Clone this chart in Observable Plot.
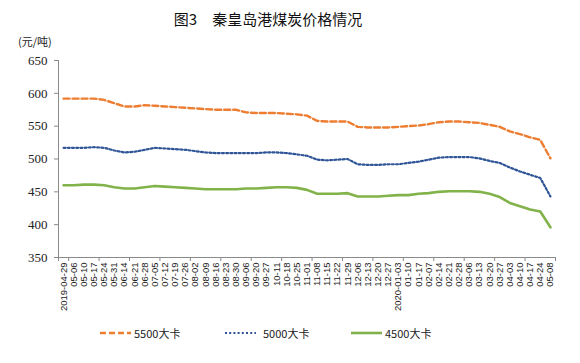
<!DOCTYPE html>
<html><head><meta charset="utf-8">
<script src="https://cdn.jsdelivr.net/npm/d3@7"></script>
<script src="https://cdn.jsdelivr.net/npm/@observablehq/plot@0.6"></script>
<style>
body{margin:0;background:#fff;}
#wrap{position:relative;width:580px;height:363px;overflow:hidden;font-family:"Noto Sans CJK SC",sans-serif;background:#fff;}
#title{position:absolute;top:9px;left:0;width:536px;text-align:center;font-size:15px;line-height:20px;color:#111;z-index:2;}
#unit{position:absolute;top:33px;left:18px;font-size:11px;line-height:16px;color:#222;z-index:2;}
#chart{position:absolute;top:32px;left:0;z-index:1;}
#chart svg{background:transparent !important;}
.leg{position:absolute;top:325px;height:16px;display:flex;align-items:center;font-size:11px;color:#222;white-space:nowrap;z-index:2;}
.leg svg{display:block;}
</style></head>
<body>
<div id="wrap">
  <div id="title">图3　秦皇岛港煤炭价格情况</div>
  <div id="unit">(元/吨)</div>
  <div id="chart"></div>
</div>
<script>
const dates = ["2019-04-29","05-06","05-10","05-17","05-24","05-31","06-14","06-21","06-28","07-05",
  "07-12","07-19","07-26","08-02","08-09","08-16","08-23","08-30","09-06","09-20",
  "09-27","10-11","10-18","10-25","11-01","11-08","11-15","11-22","11-29","12-06",
  "12-13","12-20","12-27","2020-01-03","01-10","01-17","02-07","02-14","02-21","02-28",
  "03-06","03-13","03-20","03-27","04-03","04-10","04-17","04-24","05-08"];
const s5500 = [592,592,592,592,590,585,580,580,582,581,
  580,579,578,577,576,575,575,575,571,570,
  570,570,569,568,566,558,557,557,557,549,
  548,548,548,549,550,551,553,556,557,557,
  556,555,552,549,542,538,533,529,501];
const s5000 = [517,517,517,518,517,513,510,511,514,517,
  516,515,514,512,510,509,509,509,509,509,
  510,510,509,507,505,499,498,499,500,492,
  491,491,492,492,494,496,499,502,503,503,
  503,501,497,494,487,481,476,471,443];
const s4500 = [460,460,461,461,460,457,455,455,457,459,
  458,457,456,455,454,454,454,454,455,455,
  456,457,457,456,453,447,447,447,448,443,
  443,443,444,445,445,447,448,450,451,451,
  451,450,447,442,433,428,423,420,396];
const seriesNames = ["5500大卡","5000大卡","4500大卡"];
const yTicks = [350,400,450,500,550,600,650];
const xTickEvery = 3;

const seriesValues = [s5500, s5000, s4500];
const styles = [
  {stroke:"#ED7D31", strokeWidth:2.4, strokeDasharray:"6,3"},
  {stroke:"#2F5597", strokeWidth:2.2, strokeDasharray:"2,2.2"},
  {stroke:"#82B24A", strokeWidth:2.6, strokeDasharray:null}
];
const rows = seriesNames.map((name, k) => seriesValues[k].map((v, i) => ({i, date: dates[i], value: v, series: name})));
const idx = dates.map((d, i) => i);
const boundaries = [-0.5];
for (let b = dates.length - 0.5; b > 0; b -= xTickEvery) boundaries.push(b);

const axisColor = "#8a8a8a";
const chart = Plot.plot({
  width: 580,
  height: 285,
  marginTop: 28,
  marginBottom: 60,
  marginLeft: 58,
  marginRight: 25,
  style: {background: "transparent", color: "#222", overflow: "visible"},
  x: {type: "linear", domain: [-0.5, dates.length - 0.5]},
  y: {domain: [350, 650]},
  marks: [
    Plot.axisY({ticks: yTicks, tickSize: 4, tickPadding: 7, stroke: axisColor, label: null, fill: "#222",
      fontFamily: "Liberation Serif", fontSize: 13}),
    Plot.axisX({ticks: idx, tickSize: 0, tickPadding: 5, tickRotate: -90, label: null,
      tickFormat: i => dates[i], fill: "#222", fontFamily: "Liberation Sans", fontSize: 9.5}),
    Plot.axisX({ticks: boundaries, tickSize: 4, tickFormat: () => "", stroke: axisColor, label: null}),
    Plot.ruleY([350], {stroke: axisColor}),
    Plot.ruleX([-0.5], {stroke: axisColor}),
    ...rows.map((data, k) => Plot.line(data, {x: "i", y: "value", ...styles[k], strokeLinejoin: "round"}))
  ]
});
document.getElementById("chart").appendChild(chart);
// enforce tick label fonts
const yLabelSet = new Set(yTicks.map(String));
chart.querySelectorAll("text").forEach(t => {
  const s = t.textContent.trim();
  if (yLabelSet.has(s)) {
    t.setAttribute("font-family", "'Liberation Serif', 'Times New Roman', serif");
    t.style.fontFamily = "'Liberation Serif', 'Times New Roman', serif";
    t.style.fontSize = "13px";
  } else if (dates.includes(s)) {
    t.style.fontFamily = "'Liberation Sans', Arial, sans-serif";
    t.style.fontSize = "9.5px";
  }
});

const wrap = document.getElementById("wrap");
const legendLeft = [100, 225, 351];
seriesNames.forEach((name, k) => {
  const d = document.createElement("div");
  d.className = "leg";
  d.style.left = legendLeft[k] + "px";
  const st = styles[k];
  d.innerHTML = `<svg width="33" height="16"><line x1="0" x2="31" y1="8" y2="8" stroke="${st.stroke}" stroke-width="${st.strokeWidth}" ${st.strokeDasharray ? `stroke-dasharray="${st.strokeDasharray}"` : ""}/></svg><span style="margin-left:${k===1?5:1}px">${name}</span>`;
  wrap.appendChild(d);
});
</script>
</body></html>
